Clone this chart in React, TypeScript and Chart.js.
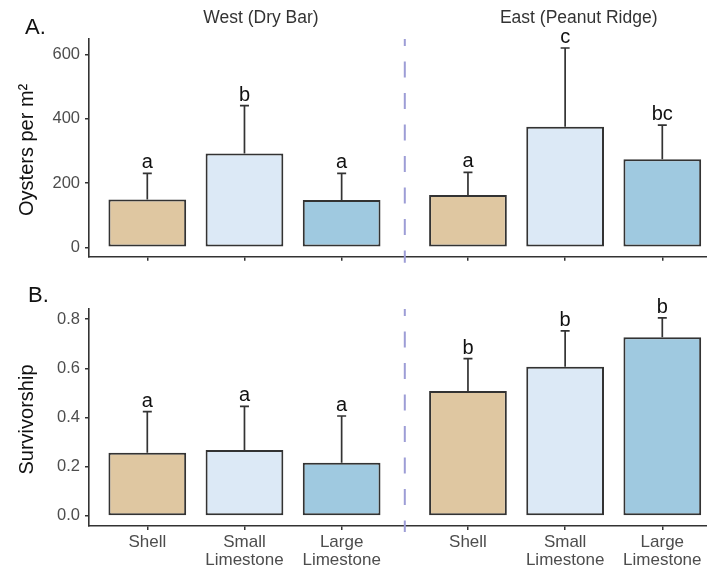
import React, { useEffect, useRef } from 'react';
import { Chart, registerables } from 'chart.js';

Chart.register(...registerables);
Chart.defaults.font.family = '"Liberation Sans", Arial, Helvetica, sans-serif';

// ---- data ----
const sites = ['West (Dry Bar)', 'East (Peanut Ridge)'];
const materials = ['Shell', 'Small Limestone', 'Large Limestone'];
const materialColors = ['#DFC7A1', '#DCE9F6', '#9FC9E0'];
const barMaterial = [0, 1, 2, 0, 1, 2];
const barX = [1, 2, 3, 4.3, 5.3, 6.3];
const siteDivider = 3.65;
const siteTitleX = [2.17, 5.44];

const oysterMeans = [149, 292, 147, 163, 375, 274];
const oysterUpper = [230, 441, 230, 233, 620, 380];
const oysterLetters = ['a', 'b', 'a', 'a', 'c', 'bc'];
const oysterTicks = [0, 200, 400, 600];

const survMeans = [0.257, 0.268, 0.216, 0.508, 0.606, 0.726];
const survUpper = [0.424, 0.445, 0.406, 0.639, 0.752, 0.805];
const survLetters = ['a', 'a', 'a', 'b', 'b', 'b'];
const survTicks = [0, 0.2, 0.4, 0.6, 0.8];

type PanelCfg = {
  means: number[];
  upper: number[];
  letters: string[];
  ticks: number[];
  yMin: number;
  yMax: number;
  yTitle: string;
  panelLabel: string;
  labelX: number;
  labelDy: number;
  showTitles: boolean;
  showXLabels: boolean;
  padTop: number;
  padBottom: number;
  fmt: (v: number) => string;
};

const panelA: PanelCfg = {
  means: oysterMeans,
  upper: oysterUpper,
  letters: oysterLetters,
  ticks: oysterTicks,
  yMin: -29,
  yMax: 648,
  yTitle: 'Oysters per m\u00B2',
  panelLabel: 'A.',
  labelX: 25,
  labelDy: -5,
  showTitles: true,
  showXLabels: false,
  padTop: 39,
  padBottom: 306.3,
  fmt: (v) => String(v),
};

const panelB: PanelCfg = {
  means: survMeans,
  upper: survUpper,
  letters: survLetters,
  ticks: survTicks,
  yMin: -0.041,
  yMax: 0.841,
  yTitle: 'Survivorship',
  panelLabel: 'B.',
  labelX: 28,
  labelDy: -7,
  showTitles: false,
  showXLabels: true,
  padTop: 309,
  padBottom: 37,
  fmt: (v) => v.toFixed(1),
};

const FONT = '"Liberation Sans", Arial, Helvetica, sans-serif';
const AXIS = '#333333';

function makePlugin(cfg: PanelCfg) {
  return {
    id: 'panelDecor',
    afterDatasetsDraw(chart: any) {
      const ctx = chart.ctx;
      const xs = chart.scales.x;
      const ys = chart.scales.y;
      const area = chart.chartArea;
      // divider
      ctx.save();
      ctx.strokeStyle = '#9d9dd6';
      ctx.lineWidth = 2;
      ctx.setLineDash([16, 15.5]);
      ctx.lineDashOffset = 9;
      const dx = xs.getPixelForValue(siteDivider);
      ctx.beginPath();
      ctx.moveTo(dx, area.top);
      ctx.lineTo(dx, area.bottom + 6);
      ctx.stroke();
      ctx.restore();
      // error bars + letters
      ctx.save();
      ctx.strokeStyle = AXIS;
      ctx.lineWidth = 1.7;
      ctx.fillStyle = '#111111';
      ctx.font = `20px ${FONT}`;
      ctx.textAlign = 'center';
      ctx.textBaseline = 'alphabetic';
      barX.forEach((bx, i) => {
        const x = xs.getPixelForValue(bx);
        const y0 = ys.getPixelForValue(cfg.means[i]);
        const y1 = ys.getPixelForValue(cfg.upper[i]);
        ctx.beginPath();
        ctx.moveTo(x, y0);
        ctx.lineTo(x, y1);
        ctx.moveTo(x - 4.5, y1);
        ctx.lineTo(x + 4.5, y1);
        ctx.stroke();
        ctx.fillText(cfg.letters[i], x, y1 - 5);
      });
      ctx.restore();
    },
    afterDraw(chart: any) {
      const ctx = chart.ctx;
      const xs = chart.scales.x;
      const area = chart.chartArea;
      ctx.save();
      // site titles
      if (cfg.showTitles) {
        ctx.font = `17.5px ${FONT}`;
        ctx.fillStyle = '#333333';
        ctx.textAlign = 'center';
        ctx.textBaseline = 'alphabetic';
        sites.forEach((s, k) => {
          ctx.fillText(s, xs.getPixelForValue(siteTitleX[k]), area.top - 16);
        });
      }
      // panel label
      ctx.font = `22px ${FONT}`;
      ctx.fillStyle = '#111111';
      ctx.textAlign = 'left';
      ctx.fillText(cfg.panelLabel, cfg.labelX, area.top + cfg.labelDy);
      // y title
      ctx.save();
      ctx.translate(33, (area.top + area.bottom) / 2 + 2);
      ctx.rotate(-Math.PI / 2);
      ctx.font = `20px ${FONT}`;
      ctx.fillStyle = '#111111';
      ctx.textAlign = 'center';
      ctx.fillText(cfg.yTitle, 0, 0);
      ctx.restore();
      // x labels
      if (cfg.showXLabels) {
        ctx.font = `17px ${FONT}`;
        ctx.fillStyle = '#4d4d4d';
        ctx.textAlign = 'center';
        barX.forEach((bx, i) => {
          const lines = materials[barMaterial[i]].split(' ');
          const x = xs.getPixelForValue(bx);
          lines.forEach((ln, j) => ctx.fillText(ln, x, area.bottom + 21 + j * 18));
        });
      }
      ctx.restore();
    },
  };
}

function Panel({ cfg }: { cfg: PanelCfg }) {
  const ref = useRef<HTMLCanvasElement | null>(null);
  useEffect(() => {
    if (!ref.current) return;
    const gridOpts = {
      display: true,
      offset: false,
      drawOnChartArea: false,
      drawTicks: true,
      tickLength: 4,
      color: AXIS,
      lineWidth: 1.5,
    };
    const borderOpts = { display: true, color: AXIS, width: 1.6 };
    const chart = new Chart(ref.current, {
      type: 'bar',
      data: {
        datasets: [
          {
            data: barX.map((x, i) => ({ x, y: cfg.means[i] })),
            backgroundColor: barMaterial.map((m) => materialColors[m]),
            borderColor: AXIS,
            borderWidth: 2,
            borderSkipped: false,
            barPercentage: 0.8,
            categoryPercentage: 1,
          } as any,
        ],
      },
      options: {
        responsive: false,
        animation: false,
        events: [],
        layout: { padding: { left: 0, right: 0, top: cfg.padTop, bottom: cfg.padBottom } },
        plugins: { legend: { display: false }, tooltip: { enabled: false } },
        scales: {
          x: {
            type: 'linear',
            min: 0.4,
            max: 6.76,
            offset: false,
            afterBuildTicks: (s: any) => {
              s.ticks = barX.map((v) => ({ value: v }));
            },
            ticks: { display: false },
            grid: gridOpts,
            border: borderOpts,
          },
          y: {
            type: 'linear',
            min: cfg.yMin,
            max: cfg.yMax,
            afterBuildTicks: (s: any) => {
              s.ticks = cfg.ticks.map((v) => ({ value: v }));
            },
            afterFit: (s: any) => {
              s.width = 89;
            },
            ticks: {
              display: true,
              padding: 5,
              color: '#4d4d4d',
              font: { size: 16.5 },
              callback: (v: any) => cfg.fmt(Number(v)),
            },
            grid: gridOpts,
            border: borderOpts,
          },
        },
      } as any,
      plugins: [makePlugin(cfg)],
    });
    return () => chart.destroy();
  }, [cfg]);
  return (
    <canvas
      ref={ref}
      width={707}
      height={567}
      style={{ position: 'absolute', left: 0, top: 0, width: 707, height: 567 }}
    />
  );
}

export default function App() {
  return (
    <div
      style={{
        position: 'fixed',
        left: 0,
        top: 0,
        width: 707,
        height: 567,
        background: '#ffffff',
        overflow: 'hidden',
      }}
    >
      <Panel cfg={panelA} />
      <Panel cfg={panelB} />
    </div>
  );
}
